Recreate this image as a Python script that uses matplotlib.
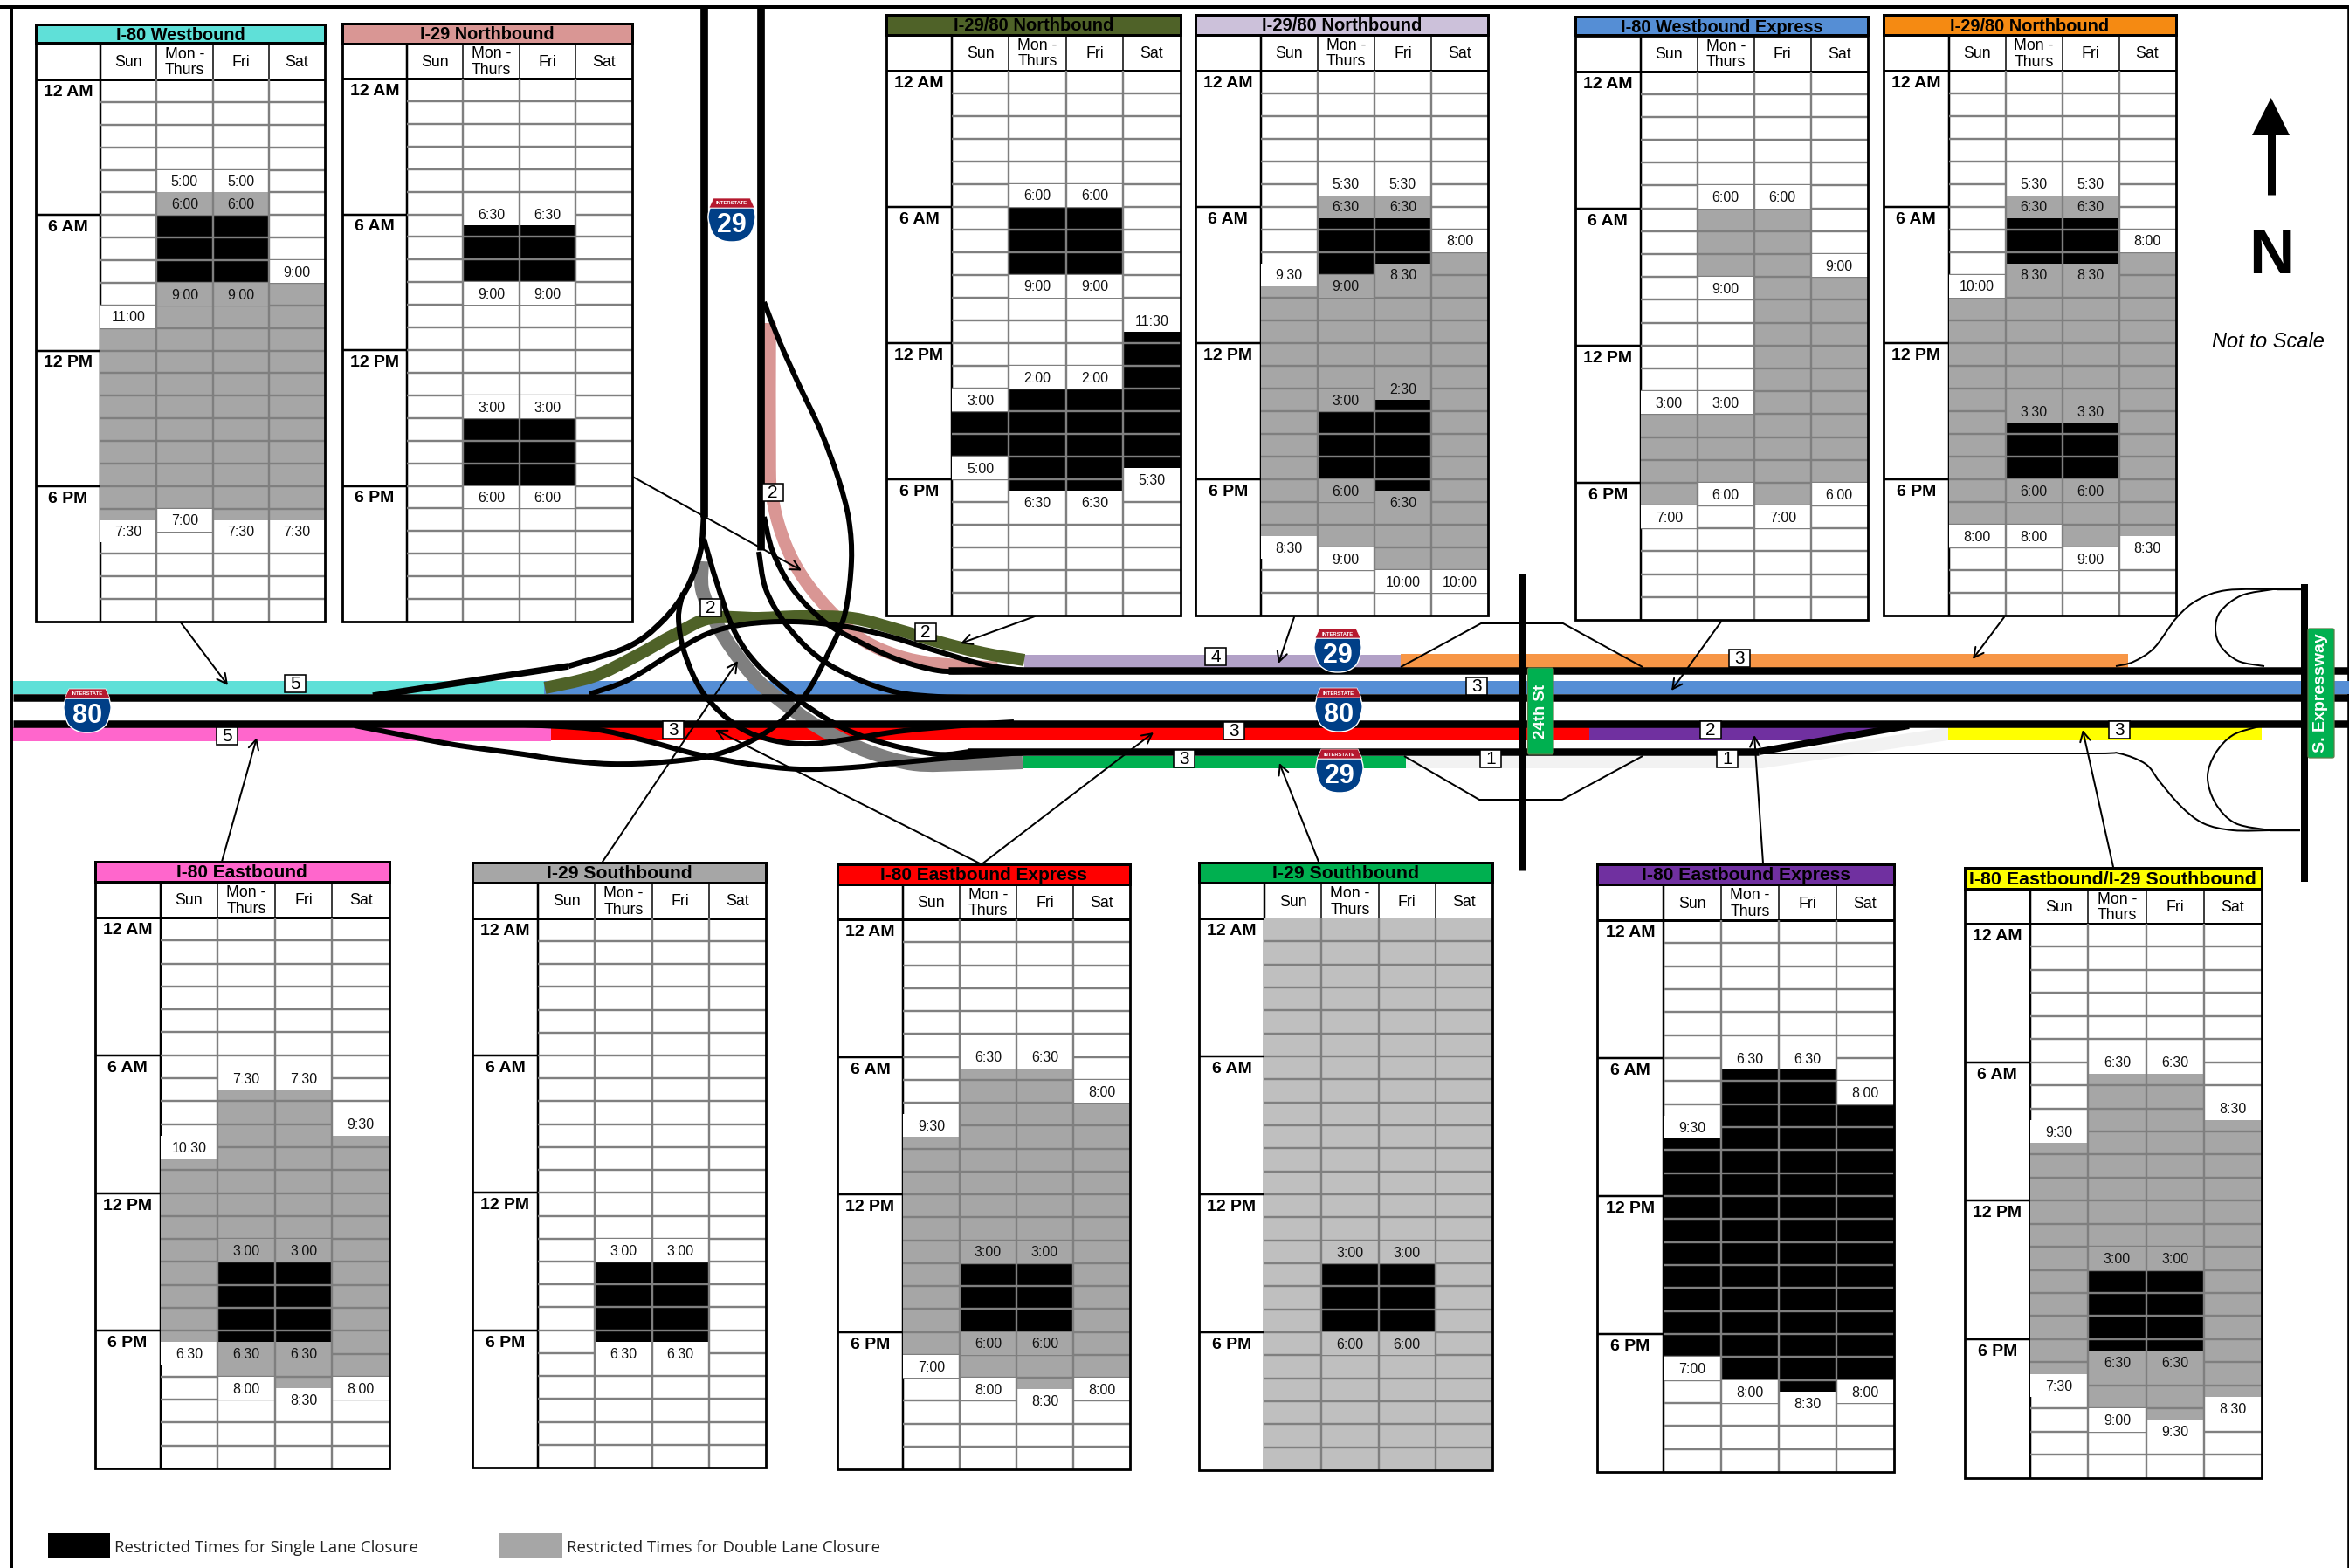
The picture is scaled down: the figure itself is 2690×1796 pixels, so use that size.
import matplotlib
matplotlib.use("Agg")
import matplotlib.pyplot as plt
from matplotlib.patches import Rectangle, PathPatch, FancyArrowPatch, FancyBboxPatch, Polygon
from matplotlib.path import Path
import numpy as np

W, H, DPI = 2690, 1796, 100
PX = 72 / DPI
SANS = ['Liberation Sans', 'DejaVu Sans']
plt.rcParams['font.family'] = SANS

# ---------- data: closures per column (Sun, Mon-Thurs, Fri, Sat), in hours after midnight ----------
DAYS = ['Sun', 'Mon -\nThurs', 'Fri', 'Sat']
HOUR_LABELS = [(0, '12 AM'), (6, '6 AM'), (12, '12 PM'), (18, '6 PM')]
S, D = 'single', 'double'

wb80_title = 'I-80 Westbound'
wb80_shades = [[(11, 19.5, D)],
               [(5, 6, D), (6, 9, S), (9, 19, D)],
               [(5, 6, D), (6, 9, S), (9, 19.5, D)],
               [(9, 19.5, D)]]
wb80_times = [[(10.5, '11:00'), (20, '7:30')],
              [(4.5, '5:00'), (5.5, '6:00'), (9.5, '9:00'), (19.5, '7:00')],
              [(4.5, '5:00'), (5.5, '6:00'), (9.5, '9:00'), (20, '7:30')],
              [(8.5, '9:00'), (20, '7:30')]]

nb29_title = 'I-29 Northbound'
nb29_shades = [[], [(6.5, 9, S), (15, 18, S)], [(6.5, 9, S), (15, 18, S)], []]
nb29_times = [[],
              [(6, '6:30'), (9.5, '9:00'), (14.5, '3:00'), (18.5, '6:00')],
              [(6, '6:30'), (9.5, '9:00'), (14.5, '3:00'), (18.5, '6:00')],
              []]

nb2980a_title = 'I-29/80 Northbound'
nb2980a_shades = [[(15, 17, S)],
                  [(6, 9, S), (14, 18.5, S)],
                  [(6, 9, S), (14, 18.5, S)],
                  [(11.5, 17.5, S)]]
nb2980a_times = [[(14.5, '3:00'), (17.5, '5:00')],
                 [(5.5, '6:00'), (9.5, '9:00'), (13.5, '2:00'), (19, '6:30')],
                 [(5.5, '6:00'), (9.5, '9:00'), (13.5, '2:00'), (19, '6:30')],
                 [(11, '11:30'), (18, '5:30')]]

nb2980b_title = 'I-29/80 Northbound'
nb2980b_shades = [[(9.5, 20.5, D)],
                  [(5.5, 6.5, D), (6.5, 9, S), (9, 15, D), (15, 18, S), (18, 21, D)],
                  [(5.5, 6.5, D), (6.5, 8.5, S), (8.5, 14.5, D), (14.5, 18.5, S), (18.5, 22, D)],
                  [(8, 22, D)]]
nb2980b_times = [[(9, '9:30'), (21, '8:30')],
                 [(5, '5:30'), (6, '6:30'), (9.5, '9:00'), (14.5, '3:00'), (18.5, '6:00'), (21.5, '9:00')],
                 [(5, '5:30'), (6, '6:30'), (9, '8:30'), (14, '2:30'), (19, '6:30'), (22.5, '10:00')],
                 [(7.5, '8:00'), (22.5, '10:00')]]

wbx80_title = 'I-80 Westbound Express'
wbx80_shades = [[(15, 19, D)],
                [(6, 9, D), (15, 18, D)],
                [(6, 19, D)],
                [(9, 18, D)]]
wbx80_times = [[(14.5, '3:00'), (19.5, '7:00')],
               [(5.5, '6:00'), (9.5, '9:00'), (14.5, '3:00'), (18.5, '6:00')],
               [(5.5, '6:00'), (19.5, '7:00')],
               [(8.5, '9:00'), (18.5, '6:00')]]

nb2980c_title = 'I-29/80 Northbound'
nb2980c_shades = [[(10, 20, D)],
                  [(5.5, 6.5, D), (6.5, 8.5, S), (8.5, 15.5, D), (15.5, 18, S), (18, 20, D)],
                  [(5.5, 6.5, D), (6.5, 8.5, S), (8.5, 15.5, D), (15.5, 18, S), (18, 21, D)],
                  [(8, 20.5, D)]]
nb2980c_times = [[(9.5, '10:00'), (20.5, '8:00')],
                 [(5, '5:30'), (6, '6:30'), (9, '8:30'), (15, '3:30'), (18.5, '6:00'), (20.5, '8:00')],
                 [(5, '5:30'), (6, '6:30'), (9, '8:30'), (15, '3:30'), (18.5, '6:00'), (21.5, '9:00')],
                 [(7.5, '8:00'), (21, '8:30')]]

eb80_title = 'I-80 Eastbound'
eb80_shades = [[(10.5, 18.5, D)],
               [(7.5, 15, D), (15, 18.5, S), (18.5, 20, D)],
               [(7.5, 15, D), (15, 18.5, S), (18.5, 20.5, D)],
               [(9.5, 20, D)]]
eb80_times = [[(10, '10:30'), (19, '6:30')],
              [(7, '7:30'), (14.5, '3:00'), (19, '6:30'), (20.5, '8:00')],
              [(7, '7:30'), (14.5, '3:00'), (19, '6:30'), (21, '8:30')],
              [(9, '9:30'), (20.5, '8:00')]]

sb29_title = 'I-29 Southbound'
sb29_shades = [[], [(15, 18.5, S)], [(15, 18.5, S)], []]
sb29_times = [[], [(14.5, '3:00'), (19, '6:30')], [(14.5, '3:00'), (19, '6:30')], []]

ebx80_title = 'I-80 Eastbound Express'
ebx80_shades = [[(9.5, 19, D)],
                [(6.5, 15, D), (15, 18, S), (18, 20, D)],
                [(6.5, 15, D), (15, 18, S), (18, 20.5, D)],
                [(8, 20, D)]]
ebx80_times = [[(9, '9:30'), (19.5, '7:00')],
               [(6, '6:30'), (14.5, '3:00'), (18.5, '6:00'), (20.5, '8:00')],
               [(6, '6:30'), (14.5, '3:00'), (18.5, '6:00'), (21, '8:30')],
               [(7.5, '8:00'), (20.5, '8:00')]]

sb29b_title = 'I-29 Southbound'
sb29b_shades = [[(0, 24, 'light')],
                [(0, 15, 'light'), (15, 18, S), (18, 24, 'light')],
                [(0, 15, 'light'), (15, 18, S), (18, 24, 'light')],
                [(0, 24, 'light')]]
sb29b_times = [[], [(14.5, '3:00'), (18.5, '6:00')], [(14.5, '3:00'), (18.5, '6:00')], []]

ebx80b_title = 'I-80 Eastbound Express'
ebx80b_shades = [[(9.5, 19, S)], [(6.5, 20, S)], [(6.5, 20.5, S)], [(8, 20, S)]]
ebx80b_times = [[(9, '9:30'), (19.5, '7:00')],
                [(6, '6:30'), (20.5, '8:00')],
                [(6, '6:30'), (21, '8:30')],
                [(7.5, '8:00'), (20.5, '8:00')]]

eb80sb29_title = 'I-80 Eastbound/I-29 Southbound'
eb80sb29_shades = [[(9.5, 19.5, D)],
                   [(6.5, 15, D), (15, 18.5, S), (18.5, 21, D)],
                   [(6.5, 15, D), (15, 18.5, S), (18.5, 21.5, D)],
                   [(8.5, 20.5, D)]]
eb80sb29_times = [[(9, '9:30'), (20, '7:30')],
                  [(6, '6:30'), (14.5, '3:00'), (19, '6:30'), (21.5, '9:00')],
                  [(6, '6:30'), (14.5, '3:00'), (19, '6:30'), (22, '9:30')],
                  [(8, '8:30'), (21, '8:30')]]

# ---------- styles & layout ----------
SHADE = {S: '#000000', D: '#A6A6A6', 'light': '#BFBFBF'}
GRID = '#7F7F7F'

# (title, shades, times, title colour, title size, x0, xlabel, x1, ytitle, yhead, ybody, ybottom)
TABLES = [
    (wb80_title, wb80_shades, wb80_times, '#5FE0D8', 14.3, 41, 115, 372, 28, 49, 91, 712),
    (nb29_title, nb29_shades, nb29_times, '#D99694', 14.3, 392, 466, 723.5, 27, 49.5, 90, 712),
    (nb2980a_title, nb2980a_shades, nb2980a_times, '#4F6228', 14.5, 1015, 1090, 1351.5, 17, 39.6, 80.5, 705),
    (nb2980b_title, nb2980b_shades, nb2980b_times, '#CCC1DA', 14.5, 1369, 1443.7, 1704, 17, 39.6, 80.5, 705),
    (wbx80_title, wbx80_shades, wbx80_times, '#558ED5', 14.4, 1804, 1878.7, 2138.7, 18.6, 40.5, 81.5, 710),
    (nb2980c_title, nb2980c_shades, nb2980c_times, '#F58A12', 14.4, 2157, 2231.5, 2491.5, 17, 40, 80.5, 705),
    (eb80_title, eb80_shades, eb80_times, '#FF66CC', 15, 108.5, 183.7, 446, 987, 1009.5, 1051, 1682),
    (sb29_title, sb29_shades, sb29_times, '#A6A6A6', 15.2, 541, 616, 877, 988, 1011, 1051.7, 1681),
    (ebx80_title, ebx80_shades, ebx80_times, '#FF0000', 15, 959, 1034, 1294, 990, 1013, 1053, 1683),
    (sb29b_title, sb29b_shades, sb29b_times, '#00B050', 15.3, 1373, 1448, 1709, 988, 1011, 1052, 1684),
    (ebx80b_title, ebx80b_shades, ebx80b_times, '#7030A0', 15.2, 1829, 1905, 2169, 990, 1013, 1054, 1686),
    (eb80sb29_title, eb80sb29_shades, eb80sb29_times, '#FFFF00', 15.4, 2249.5, 2325, 2590, 994, 1018, 1058, 1692.5),
]

fig = plt.figure(figsize=(W / DPI, H / DPI), dpi=DPI, facecolor='white')
base = fig.add_axes([0, 0, 1, 1], zorder=1)
base.set_xlim(0, W)
base.set_ylim(H, 0)
base.axis('off')


def catmull(points):
    p = np.asarray(points, float)
    q = np.vstack([p[0], p, p[-1]])
    verts = [p[0]]
    codes = [Path.MOVETO]
    for i in range(1, len(q) - 2):
        c1 = q[i] + (q[i + 1] - q[i - 1]) / 6
        c2 = q[i + 1] - (q[i + 2] - q[i]) / 6
        verts += [c1, c2, q[i + 1]]
        codes += [Path.CURVE4] * 3
    return Path(verts, codes)


def road(points, lw, color='black', z=3, smooth=True):
    path = catmull(points) if smooth else Path(points)
    base.add_patch(PathPatch(path, fill=False, ec=color, lw=lw * PX, zorder=z, capstyle='butt', joinstyle='round'))


def band(x0, x1, y0, y1, color, z=1):
    base.add_patch(Rectangle((x0, y0), x1 - x0, y1 - y0, fc=color, ec='none', zorder=z))


# ---------- outer frame ----------
base.plot([0, W], [8, 8], color='black', lw=4 * PX, zorder=1, solid_capstyle='butt')
base.plot([13, 13], [6, H], color='black', lw=4 * PX, zorder=1, solid_capstyle='butt')
base.plot([2688.7, 2688.7], [6, H], color='black', lw=2.6 * PX, zorder=1, solid_capstyle='butt')

# ---------- coloured road segments ----------
band(15, 623, 780, 795, '#5FE0D8')
band(623, W, 780, 795, '#558ED5')
band(1173, 1604, 750, 765, '#B2A1C7')
band(1604, 2437, 749, 765, '#F79646')
band(15, 631, 833, 849, '#FF66CC')
band(631, 1820, 833, 848, '#FF0000')
base.add_patch(Polygon([(1820, 833), (2178, 833), (2105, 848), (1820, 848)], fc='#7030A0', ec='none', zorder=1))
band(2231, 2590, 832, 848, '#FFFF00')
band(1171, 1610, 866, 880, '#00B050')
base.add_patch(Polygon([(1610, 866), (2014, 866), (2231, 833), (2231, 848), (2018, 880), (1610, 880)],
                       fc='#F2F2F2', ec='none', zorder=1))
road([(881.5, 370), (881.5, 537), (884, 566), (891, 599), (904.5, 635), (924, 668), (952, 701), (983.5, 730),
      (1019, 748), (1063, 759), (1142, 765)], 14.5, '#D99694', z=1.2)
road([(804, 643), (804, 675), (817.5, 708), (837, 741), (869, 781), (908, 813), (948, 839), (995, 861), (1047, 875),
      (1106, 875), (1171, 873)], 16, '#7F7F7F', z=1.3)
road([(624, 788), (679, 775), (727, 752), (774, 726), (814, 708), (869, 708), (916, 706), (976, 708), (1027, 721),
      (1074, 735), (1126, 748), (1173, 756)], 14, '#4F6228', z=1.4)

# ---------- main roads ----------
road([(15, 799), (W, 799)], 8.5, smooth=False)
road([(15, 829), (W, 829)], 8.5, smooth=False)
road([(1086, 768), (W, 768)], 8.5, smooth=False)
road([(1108, 861), (2014, 861)], 8.5, smooth=False)
road([(2014, 861), (2186, 831)], 8, smooth=False)
road([(806, 7), (806, 592)], 8.7, smooth=False)
road([(870.5, 7), (870.5, 630)], 8.7, smooth=False)
# ramps
road([(806, 590), (802, 632), (786, 675), (758, 712), (719, 741), (651, 763)], 6.5)
road([(651, 763), (427, 797)], 7.5, smooth=False)
road([(806, 617), (821, 668), (841, 723), (869, 763), (916, 803), (968, 835), (1019, 853), (1074, 864), (1110, 861)], 6)
road([(782, 679), (777, 708), (784, 748), (806, 795), (845, 832), (885, 848), (928, 852), (976, 846), (1035, 837),
      (1114, 830), (1161, 827)], 6)
road([(875, 592), (885, 632), (908, 675), (944, 712), (980, 733), (1027, 755), (1074, 768), (1114, 769)], 6)
road([(869, 632), (877, 675), (900, 715), (936, 752), (980, 777), (1027, 793), (1074, 798), (1110, 799)], 6)
road([(875, 346), (893, 392), (916, 443), (940, 494), (960, 548), (972, 595), (975, 643), (968, 701), (952, 741),
      (920, 799), (877, 839), (821, 864), (758, 873), (699, 875), (640, 870), (600, 864), (514, 852), (406, 831)], 6)
road([(600, 830), (679, 835), (738, 848), (798, 864), (857, 875), (916, 881), (976, 879), (1035, 873), (1114, 866),
      (1193, 861)], 6)
road([(675, 795), (719, 779), (770, 748), (810, 726), (853, 715), (908, 712), (964, 717), (1015, 728), (1074, 746),
      (1126, 761), (1173, 768)], 6)

# thin ramps at the interchanges
road([(1604, 764), (1696, 714), (1790, 714), (1881, 764)], 2, smooth=False)
road([(1608, 866), (1694, 916), (1789, 916), (1881, 866)], 2, smooth=False)
road([(2018, 863), (2220, 863), (2400, 863), (2427, 863), (2457, 875), (2473, 895), (2497, 923), (2523, 943),
      (2557, 951), (2600, 951)], 2)
road([(2423, 763), (2443, 758), (2467, 742), (2493, 707), (2517, 687), (2550, 676), (2607, 675)], 2)
road([(2603, 675), (2567, 682), (2543, 700), (2537, 720), (2543, 740), (2563, 757), (2593, 763)], 2)
road([(2587, 832), (2557, 842), (2537, 863), (2528, 890), (2537, 920), (2560, 943), (2600, 951)], 2)
road([(2607, 675), (2636, 675)], 2.4, smooth=False)
road([(2600, 951), (2634, 951)], 2.4, smooth=False)

# cross streets
road([(1743, 657), (1743, 997)], 7, z=4, smooth=False)
road([(2639, 669), (2639, 1010)], 8, z=4, smooth=False)
for x0, x1, y0, y1, txt, fs in [(1749.5, 1779, 765, 864, '24th St', 13.4), (2643, 2673, 720, 868, 'S. Expressway', 14)]:
    base.add_patch(FancyBboxPatch((x0 + 2, y0 + 2), x1 - x0 - 4, y1 - y0 - 4, boxstyle='round,pad=2',
                                  fc='#00B050', ec='#5E7F4A', lw=0.9, zorder=5))
    base.text((x0 + x1) / 2, (y0 + y1) / 2, txt, rotation=90, color='white', ha='center', va='center',
              fontsize=fs, fontweight='bold', zorder=6)

# lane-count boxes
LANE_BOXES = [(338, 783, '5'), (260, 843, '5'), (771, 836, '3'), (885, 564, '2'), (814, 696, '2'), (1060, 724, '2'),
              (1392, 752, '4'), (1691, 786, '3'), (1992, 754, '3'), (1413, 837, '3'), (1959, 836, '2'),
              (2427, 836, '3'), (1356, 869, '3'), (1707, 869, '1'), (1978, 869, '1')]
for x, y, n in LANE_BOXES:
    base.add_patch(Rectangle((x - 12, y - 10), 24, 20, fc='white', ec='black', lw=1.6 * PX, zorder=7))
    base.text(x, y + 0.5, n, ha='center', va='center', fontsize=15, zorder=8)


# interstate shields
def shield(cx, cy, num):
    w, h = 27, 25
    outline = catmull([(cx - w + 2, cy - h + 11), (cx - w, cy - 2), (cx - w + 5, cy + h - 10),
                       (cx - 12, cy + h - 2), (cx, cy + h), (cx + 12, cy + h - 2), (cx + w - 5, cy + h - 10),
                       (cx + w, cy - 2), (cx + w - 2, cy - h + 11)])
    v = np.vstack([outline.vertices, outline.vertices[0]])
    c = list(outline.codes) + [Path.CLOSEPOLY]
    base.add_patch(PathPatch(Path(v, c), fc='#003F87', ec='white', lw=1, zorder=8))
    base.add_patch(Polygon([(cx - w + 1, cy - h + 11), (cx - w + 6, cy - h), (cx + w - 6, cy - h),
                            (cx + w - 1, cy - h + 11)], fc='#B5192F', ec='white', lw=0.5, zorder=9))
    base.text(cx, cy - h + 6, 'INTERSTATE', color='white', fontsize=4.2, fontweight='bold',
              ha='center', va='center', zorder=10)
    base.text(cx, cy + 6, num, color='white', fontsize=22, fontweight='bold', ha='center', va='center', zorder=10)


for cx, cy, n in [(100, 814, '80'), (838, 252, '29'), (1532, 745, '29'), (1533, 813, '80'), (1534, 883, '29')]:
    shield(cx, cy, n)

# leader arrows
LEADERS = [((207, 713), (261, 785)), ((724.5, 546), (918, 653.5)), ((1185, 706), (1100, 737)), ((1482, 707), (1464, 760)),
           ((1971, 712), (1914, 791)), ((2295, 707), (2259, 755)), ((254, 987), (294, 845)), ((690, 987), (845, 757)),
           ((1124, 990), (819, 836)), ((1124, 990), (1321, 839)), ((1510, 987), (1465, 874)),
           ((2019, 989), (2009, 842)), ((2420, 993), (2385, 836))]
for a, b in LEADERS:
    base.add_patch(FancyArrowPatch(a, b, arrowstyle='->,head_length=5,head_width=2.6', lw=2 * PX, color='black',
                                   shrinkA=0, shrinkB=0, mutation_scale=1.6, zorder=6))

# north arrow
base.add_patch(Polygon([(2600.7, 112), (2579, 155), (2622, 155)], fc='black', ec='none'))
base.plot([2601, 2601], [150, 223], color='black', lw=9 * PX, solid_capstyle='butt')
base.text(2601, 294, 'N', fontsize=52, fontweight='bold', ha='center', va='center')
base.text(2597, 391, 'Not to Scale', fontsize=17, fontstyle='italic', ha='center', va='center')

# legend
LEGEND_ENTRIES = [(55, 126, S, 'Restricted Times for Single Lane Closure', 131),
                  (571, 644, D, 'Restricted Times for Double Lane Closure', 649)]
for x0, x1, kind, txt, tx in LEGEND_ENTRIES:
    base.add_patch(Rectangle((x0, 1756), x1 - x0, 27.5, fc=SHADE[kind], ec='none'))
    base.text(tx, 1772.5, txt, fontsize=13.4, family='Open Sans', color='#222222', ha='left', va='center')


# ---------- tables ----------
def draw_table(title, shades, times, color, tsize, x0, xl, x1, yt, yh, yb, ybot):
    base.add_patch(Rectangle((x0, yt), x1 - x0, ybot - yt, fc='white', ec='none', zorder=11))
    base.add_patch(Rectangle((x0, yt), x1 - x0, yh - yt, fc=color, ec='black', lw=3 * PX, zorder=12))
    base.text((x0 + x1) / 2, (yt + yh) / 2 + 1.5, title, ha='center', va='center', fontsize=tsize, fontweight='bold', zorder=13)
    cw = (x1 - xl) / 4
    base.plot([x0, x1], [yb, yb], color='black', lw=3 * PX, zorder=12, solid_capstyle='butt')
    base.plot([xl, xl], [yh, ybot], color='black', lw=2.5 * PX, zorder=15, solid_capstyle='butt')
    for i, d in enumerate(DAYS):
        cx = xl + cw * (i + 0.5)
        base.text(cx, (yh + yb) / 2 + 1.5, d, ha='center', va='center', fontsize=12.8, linespacing=1.12, zorder=13)
        if i:
            base.plot([xl + cw * i] * 2, [yh, yb], color='black', lw=1.5 * PX, zorder=12, solid_capstyle='butt')

    ax = fig.add_axes([xl / W, 1 - ybot / H, (x1 - xl) / W, (ybot - yb) / H], zorder=2)
    ax.set_xlim(0, 4)
    ax.set_ylim(24, 0)
    ax.axis('off')
    ax.patch.set_alpha(0)
    for c, (col_shades, col_times) in enumerate(zip(shades, times)):
        for s, e, kind in col_shades:
            ax.add_patch(Rectangle((c, s), 1, e - s, fc=SHADE[kind], ec='none', zorder=1))
    ax.hlines(range(1, 24), 0, 4, color=GRID, lw=2.4 * PX, zorder=2)
    for c, (col_shades, col_times) in enumerate(zip(shades, times)):
        for centre, txt in col_times:
            fill = 'white'
            for s, e, kind in col_shades:
                if s <= centre < e and kind != S:
                    fill = SHADE[kind]
            ax.add_patch(Rectangle((c, centre - 0.5), 1, 1, fc=fill, ec='none', zorder=3))
            ax.text(c + 0.5, centre + 0.05, txt, ha='center', va='center', fontsize=11.5, color='#111111', zorder=5)
    ax.vlines([1, 2, 3], 0, 24, color=GRID, lw=2.4 * PX, zorder=4)

    rh = (ybot - yb) / 24
    for h, lab in HOUR_LABELS:
        y = yb + h * rh
        if h:
            base.plot([x0, xl], [y, y], color='black', lw=2.5 * PX, zorder=12, solid_capstyle='butt')
        base.text((x0 + xl) / 2, y + rh * 0.5 + 1.5, lab, ha='center', va='center', fontsize=14, fontweight='bold', zorder=13)
    frame = Rectangle((x0, yh), x1 - x0, ybot - yh, fill=False, ec='black', lw=2.8 * PX)
    over.add_patch(frame)


over = fig.add_axes([0, 0, 1, 1], zorder=3)
over.set_xlim(0, W)
over.set_ylim(H, 0)
over.axis('off')
over.patch.set_alpha(0)
for args in TABLES:
    draw_table(*args)

fig.savefig('out.png', dpi=DPI, facecolor='white')
